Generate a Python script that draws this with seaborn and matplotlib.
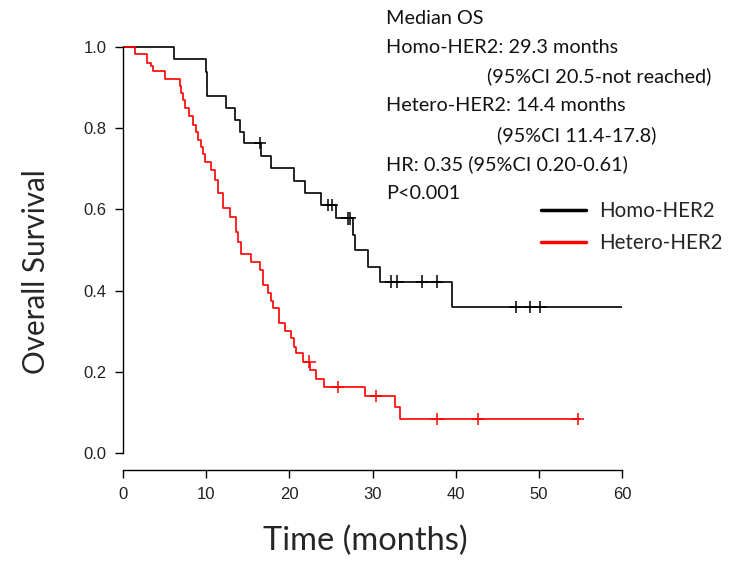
import numpy as np
import pandas as pd
import matplotlib
matplotlib.use("Agg")
import matplotlib.pyplot as plt
from matplotlib.lines import Line2D
import seaborn as sns

# Kaplan-Meier step curves (time in months, survival after each drop)
homo_time = [0, 6.1, 10.0, 10.15, 12.35, 13.5, 14.05, 14.5, 16.6, 17.75, 20.6, 21.85,
             23.8, 25.6, 27.7, 27.9, 29.4, 30.9, 39.6, 60.0]
homo_surv = [1.0, 0.970, 0.939, 0.880, 0.850, 0.820, 0.791, 0.764, 0.732, 0.701, 0.670,
             0.641, 0.611, 0.578, 0.537, 0.500, 0.457, 0.422, 0.360, 0.360]
homo_cens = [16.5, 24.6, 25.1, 27.0, 27.3, 32.2, 33.0, 36.0, 37.7, 47.2, 48.9, 50.2]

hetero_time = [0, 1.45, 2.85, 3.35, 3.55, 5.0, 6.8, 7.0, 7.2, 7.4, 7.9, 8.4, 8.75, 9.05,
               9.35, 9.6, 9.8, 10.6, 11.05, 11.45, 12.05, 12.85, 13.6, 13.85, 14.15, 15.4,
               16.45, 16.85, 17.45, 17.75, 18.0, 18.8, 19.45, 20.25, 20.55, 20.85, 21.65,
               22.5, 23.15, 24.2, 29.15, 32.75, 33.3, 55.0]
hetero_surv = [1.0, 0.983, 0.960, 0.953, 0.942, 0.921, 0.904, 0.886, 0.869, 0.851, 0.831,
               0.808, 0.791, 0.771, 0.754, 0.736, 0.716, 0.697, 0.672, 0.641, 0.603, 0.582,
               0.545, 0.520, 0.490, 0.470, 0.451, 0.414, 0.393, 0.375, 0.356, 0.319, 0.301,
               0.282, 0.262, 0.246, 0.225, 0.204, 0.182, 0.162, 0.140, 0.112, 0.083, 0.083]
hetero_cens = [22.4, 25.8, 30.4, 37.8, 42.7, 54.7]

groups = ["Homo-HER2", "Hetero-HER2"]
colors = {"Homo-HER2": "black", "Hetero-HER2": "#ff0000"}

annot_lines = [
    ("Median OS", 0),
    ("Homo-HER2: 29.3 months", 0),
    ("(95%CI 20.5-not reached)", 101),
    ("Hetero-HER2: 14.4 months", 0),
    ("(95%CI 11.4-17.8)", 111),
    ("HR: 0.35 (95%CI 0.20-0.61)", 0),
    ("P<0.001", 0),
]


def surv_at(times, surv, t):
    # survival value of the step curve at time t
    idx = np.searchsorted(times, t, side="right") - 1
    return np.asarray(surv)[idx]


curves = pd.concat([
    pd.DataFrame({"time": homo_time, "surv": homo_surv, "group": groups[0]}),
    pd.DataFrame({"time": hetero_time, "surv": hetero_surv, "group": groups[1]}),
])
censors = pd.concat([
    pd.DataFrame({"time": homo_cens, "surv": surv_at(homo_time, homo_surv, homo_cens),
                  "group": groups[0]}),
    pd.DataFrame({"time": hetero_cens, "surv": surv_at(hetero_time, hetero_surv, hetero_cens),
                  "group": groups[1]}),
])

sns.set_style("ticks")
W, H = 751, 562
fig = plt.figure(figsize=(W / 100, H / 100), dpi=100)
ax = fig.add_axes([123 / W, (H - 470) / H, 499 / W, 439.2 / H])

sns.lineplot(data=curves, x="time", y="surv", hue="group", palette=colors,
             estimator=None, drawstyle="steps-post", linewidth=1.2, legend=False, ax=ax)
sns.scatterplot(data=censors, x="time", y="surv", hue="group", palette=colors,
                marker="+", s=80, linewidth=1.1, legend=False, ax=ax, zorder=3)

ax.set_xlim(0, 60)
ax.set_ylim(-0.042, 1.04)
ax.set_xticks(np.arange(0, 61, 10))
ax.set_yticks(np.arange(0, 1.01, 0.2))
ax.set_yticklabels([f"{v:.1f}" for v in np.arange(0, 1.01, 0.2)])
sns.despine(ax=ax)
ax.spines["left"].set_bounds(0, 1)
ax.spines["bottom"].set_bounds(0, 60)
for sp in ("left", "bottom"):
    ax.spines[sp].set_linewidth(1.0)
    ax.spines[sp].set_color("black")
ax.tick_params(length=6, width=1.0, color="black", labelsize=12, pad=6)
for lab in ax.get_xticklabels() + ax.get_yticklabels():
    lab.set_fontfamily("Liberation Sans")
    lab.set_color("#222222")

ax.set_xlabel("Time (months)", fontsize=23.5, fontfamily="Lato")
ax.set_ylabel("Overall Survival", fontsize=21.3, fontfamily="Lato")
ax.xaxis.set_label_coords((365.5 - 123) / 499, (470 - 541) / 439.2)
ax.yaxis.set_label_coords((36 - 123) / 499, (470 - 272) / 439.2)
ax.xaxis.label.set_va("center")
ax.yaxis.label.set_va("center")
ax.yaxis.label.set_ha("center")

# annotation block in the top right
for i, (txt, indent) in enumerate(annot_lines):
    fig.text((386 + indent) / W, 1 - (18 + 29.3 * i) / H, txt, fontsize=14.3,
             fontfamily="Lato", va="center", ha="left", color="#111111")

handles = [Line2D([], [], color=colors[g], lw=2.5) for g in groups]
fig.legend(handles, groups, loc="center left", bbox_to_anchor=(522 / W, 1 - 227 / H),
           frameon=False, prop={"family": "Lato", "size": 14.8},
           handlelength=2.2, handletextpad=0.65, labelspacing=0.6)

fig.savefig("out.png", dpi=100)
